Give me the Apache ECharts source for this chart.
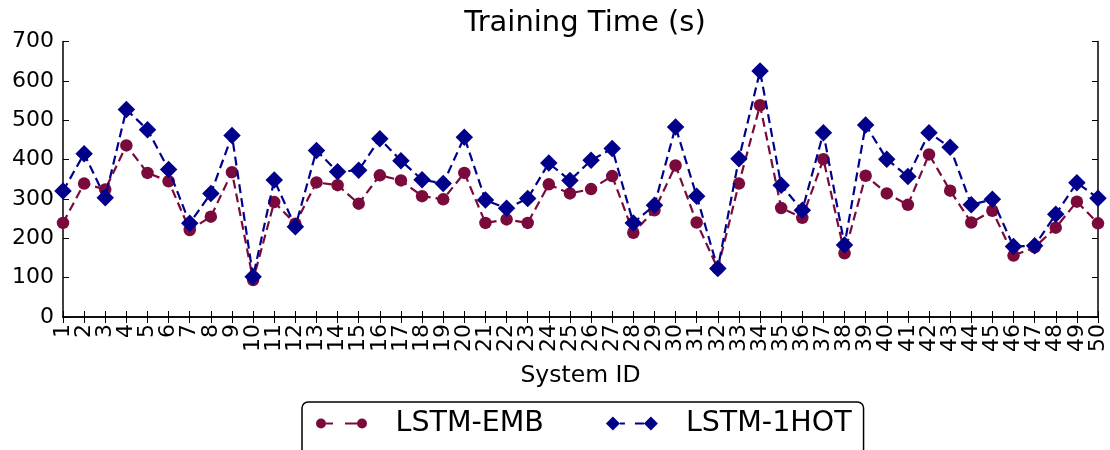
<!DOCTYPE html>
<html>
<head>
<meta charset="utf-8">
<script src="https://cdn.jsdelivr.net/npm/echarts@6/dist/echarts.min.js"></script>
<style>html,body{margin:0;padding:0;background:#fff}#c{width:1110px;height:450px}</style>
</head>
<body>
<div id="c"></div>
<script>
const systemIds = Array.from({length: 50}, (_, i) => String(i + 1));
const lstmEmb = [239, 339, 324, 436, 366, 345, 221, 255, 368, 94,
                 292, 237, 342, 335, 288, 360, 347, 307, 299, 366,
                 239, 248, 239, 337, 314, 325, 358, 214, 271, 385,
                 240, 123, 339, 538, 277, 252, 401, 162, 359, 314,
                 285, 413, 321, 240, 270, 156, 177, 227, 293, 238];
const lstm1Hot = [320, 415, 303, 527, 476, 375, 238, 314, 461, 102,
                  348, 229, 423, 369, 373, 453, 397, 349, 339, 457,
                  297, 276, 301, 391, 347, 398, 428, 239, 284, 483,
                  307, 123, 402, 625, 335, 271, 468, 183, 488, 401,
                  357, 468, 431, 285, 299, 179, 181, 261, 341, 302];
const yTicks = [0, 100, 200, 300, 400, 500, 600, 700];

const FONT = 'DejaVu Sans';
const EMB_COLOR = '#7a0a3c';
const HOT_COLOR = '#00008b';

const circleIcon = 'path://M25,0L25.01,0L25.01,0.01Z M25,14L25.01,14L25.01,13.99Z ' +
  'M0,7A5,5 0 1,1 10,7A5,5 0 1,1 0,7Z M10,6L17,6L17,8L10,8Z M29,6L41,6L41,8L29,8Z ' +
  'M41,7A5,5 0 1,1 51,7A5,5 0 1,1 41,7Z';
const diamondIcon = 'path://M0,7L7,0L14,7L7,14Z M14,6L19,6L19,8L14,8Z M29,6L38,6L38,8L29,8Z M38,7L45,0L52,7L45,14Z';

const chart = echarts.init(document.getElementById('c'), null, {renderer: 'canvas'});
const axisLine = {show: true, lineStyle: {color: '#000', width: 1.5}};
chart.setOption({
  animation: false,
  backgroundColor: '#fff',
  textStyle: {fontFamily: FONT},
  title: {
    text: 'Training Time (s)',
    left: 580, top: 4, textAlign: 'center',
    textStyle: {fontFamily: FONT, fontSize: 29, fontWeight: 'normal', color: '#000'}
  },
  grid: {left: 63, right: 12, top: 41.5, bottom: 133, containLabel: false},
  legend: {
    left: 302, top: 402,
    padding: [7, 12, 30, 14],
    itemGap: 62,
    itemWidth: 52, itemHeight: 14,
    borderColor: '#000', borderWidth: 1.5, borderRadius: 6,
    textStyle: {fontFamily: FONT, fontSize: 28.5, color: '#000', padding: [0, 0, 0, 23]},
    data: [
      {name: 'LSTM-EMB', icon: circleIcon},
      {name: 'LSTM-1HOT', icon: diamondIcon}
    ]
  },
  xAxis: [{
    type: 'category', data: systemIds, boundaryGap: false,
    name: 'System ID', nameLocation: 'middle', nameGap: 47,
    nameTextStyle: {fontFamily: FONT, fontSize: 23.5, color: '#000'},
    axisLine: axisLine,
    axisTick: {show: true, inside: true, length: 6, interval: 0, lineStyle: {color: '#000', width: 1}},
    axisLabel: {interval: 0, rotate: 90, margin: 7, fontFamily: FONT, fontSize: 22, color: '#000'},
    splitLine: {show: false}
  }, {
    type: 'category', data: systemIds, boundaryGap: false, position: 'top',
    axisLine: axisLine,
    axisTick: {show: true, inside: true, length: 6, interval: 0, lineStyle: {color: '#000', width: 1}},
    axisLabel: {show: false}, splitLine: {show: false}
  }],
  yAxis: [{
    type: 'value', min: yTicks[0], max: yTicks[yTicks.length - 1], interval: 100,
    axisLine: axisLine,
    axisTick: {show: true, inside: true, length: 6, lineStyle: {color: '#000', width: 1}},
    axisLabel: {margin: 9, fontFamily: FONT, fontSize: 22, color: '#000'},
    splitLine: {show: false}
  }, {
    type: 'value', min: yTicks[0], max: yTicks[yTicks.length - 1], interval: 100, position: 'right',
    axisLine: axisLine,
    axisTick: {show: true, inside: true, length: 6, lineStyle: {color: '#000', width: 1}},
    axisLabel: {show: false}, splitLine: {show: false}
  }],
  series: [{
    name: 'LSTM-EMB', type: 'line', data: lstmEmb,
    xAxisIndex: 0, yAxisIndex: 0,
    symbol: 'circle', symbolSize: 12.5,
    lineStyle: {color: EMB_COLOR, width: 2.2, type: [9, 5]},
    itemStyle: {color: EMB_COLOR, borderWidth: 0, opacity: 1},
    z: 2
  }, {
    name: 'LSTM-1HOT', type: 'line', data: lstm1Hot,
    xAxisIndex: 0, yAxisIndex: 0,
    symbol: 'diamond', symbolSize: 17.5,
    lineStyle: {color: HOT_COLOR, width: 2.2, type: [9, 5]},
    itemStyle: {color: HOT_COLOR, borderWidth: 0, opacity: 1},
    z: 3
  }]
});
</script>
</body>
</html>
